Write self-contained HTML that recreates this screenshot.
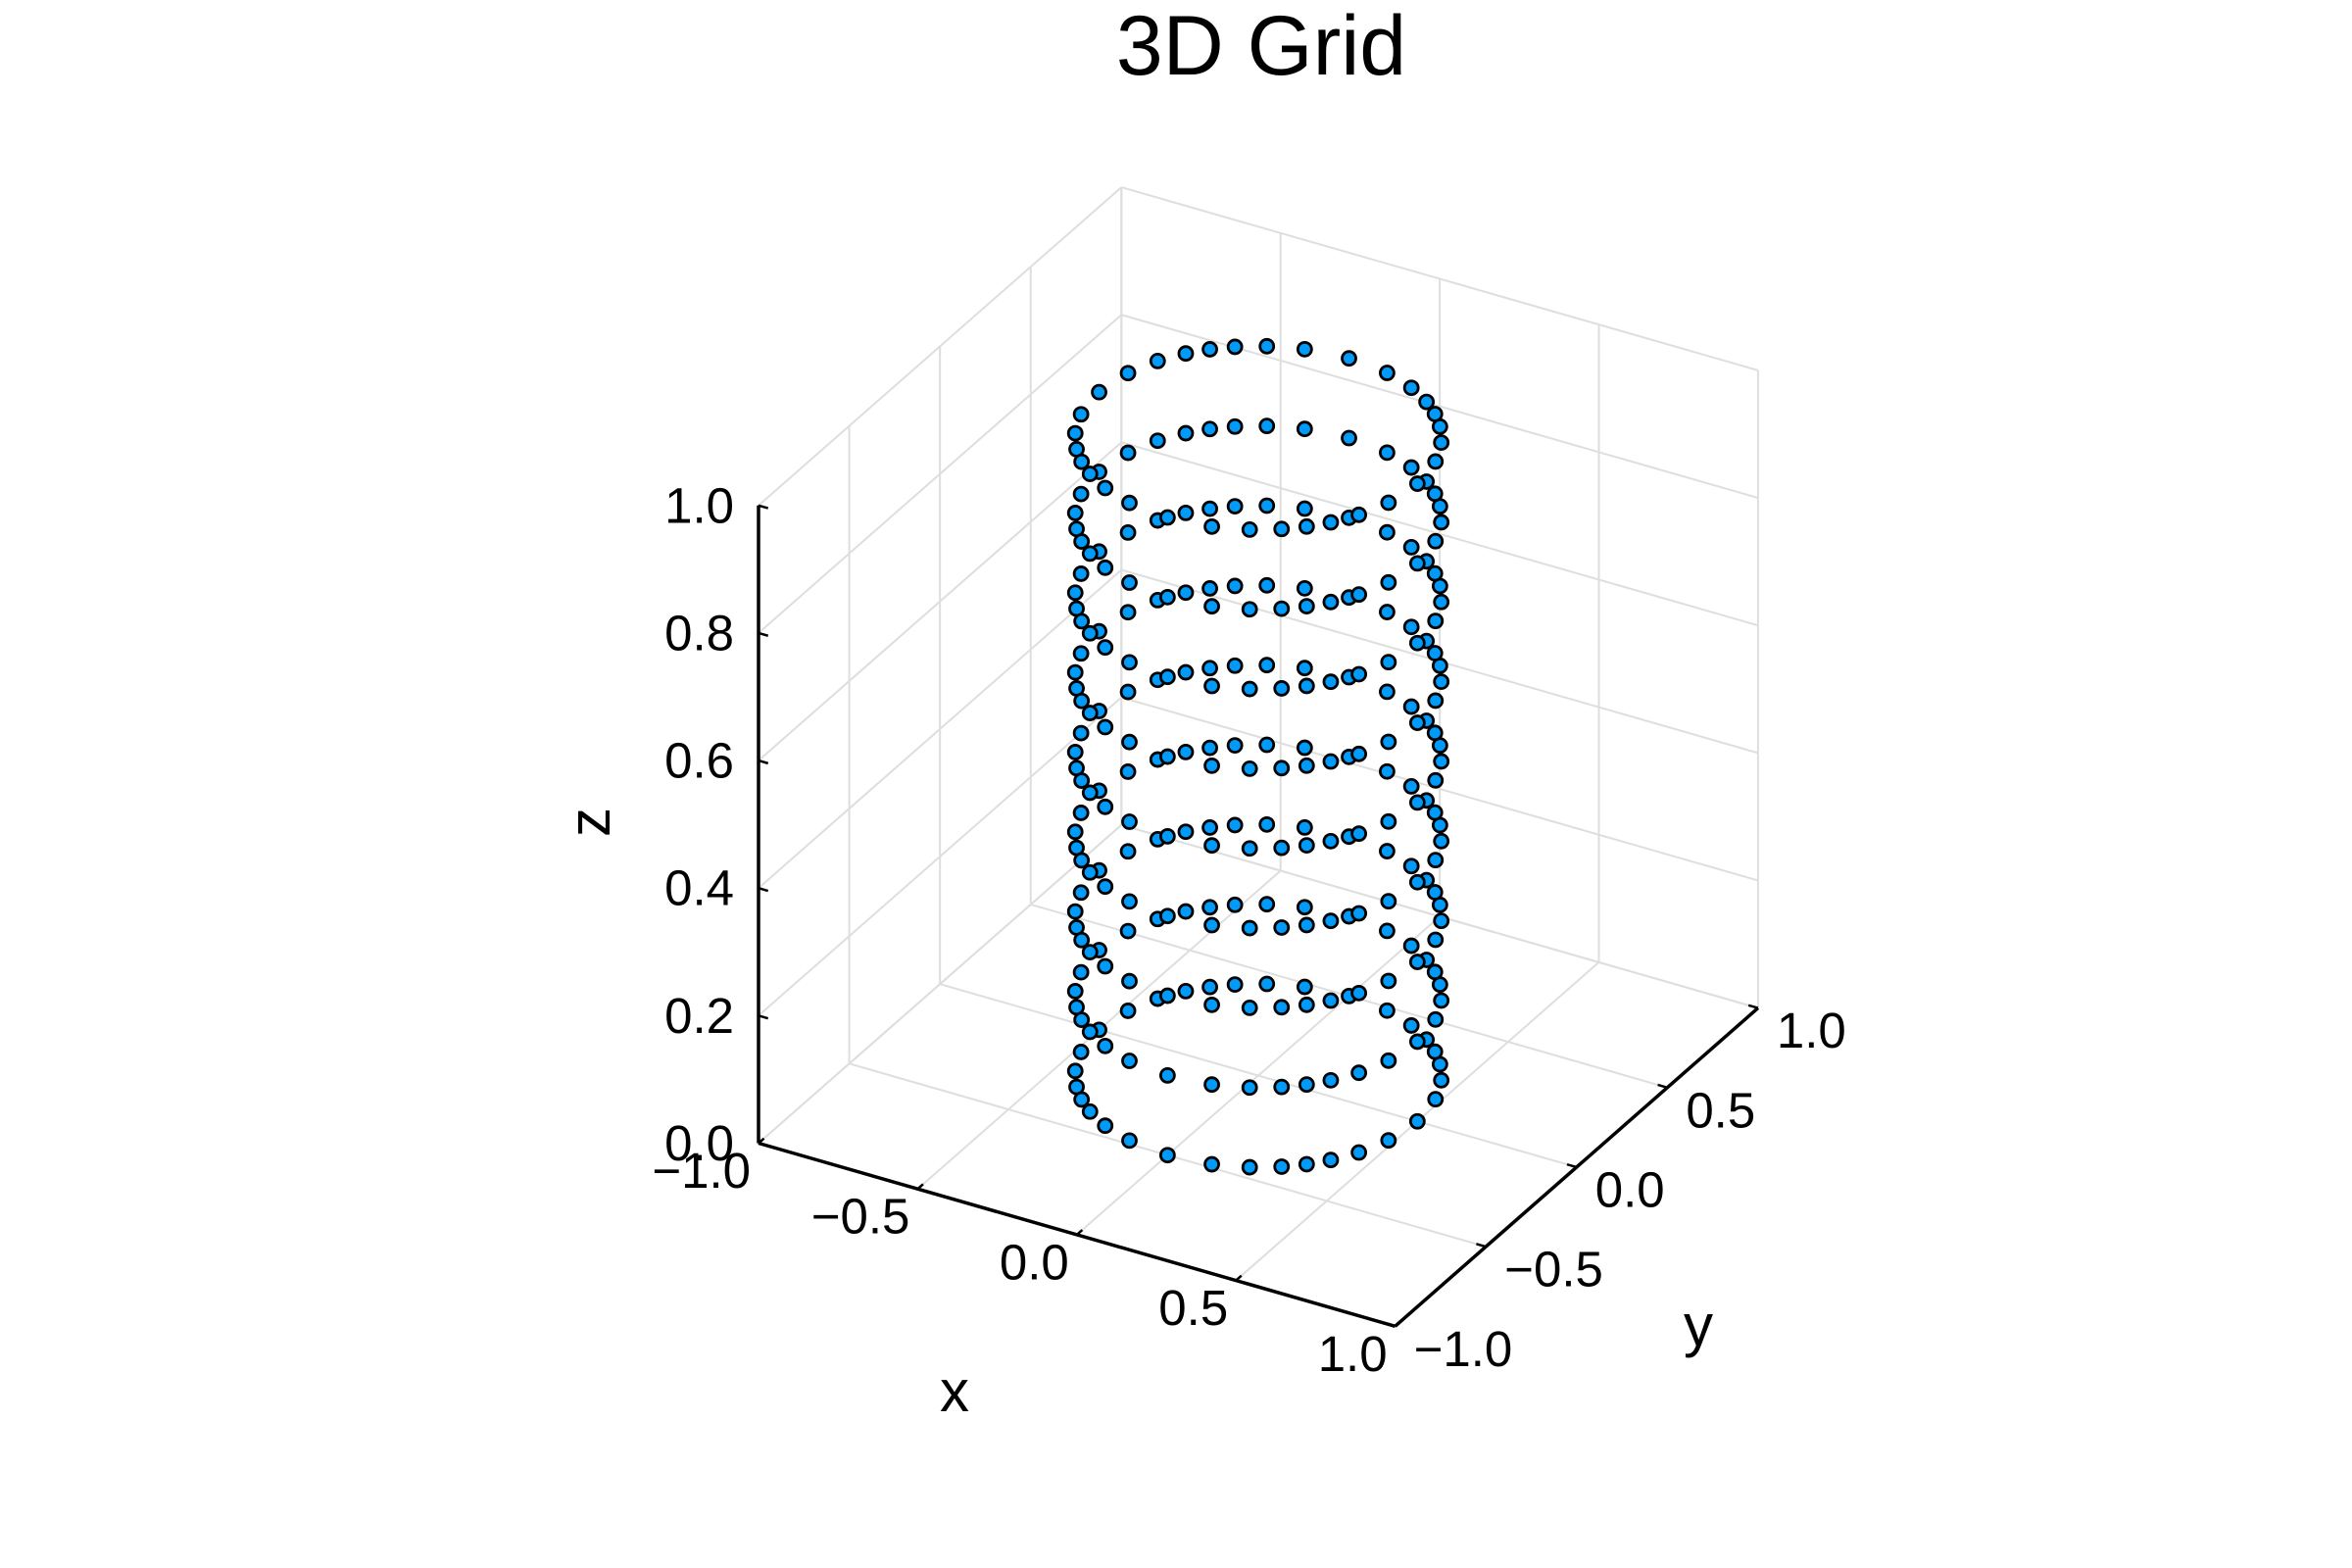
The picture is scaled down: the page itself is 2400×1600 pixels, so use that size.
<!DOCTYPE html>
<html>
<head>
<meta charset="utf-8">
<style>
  html, body { margin: 0; padding: 0; background: #fff; }
  svg { display: block; }
  text { font-family: "Liberation Sans", "DejaVu Sans", sans-serif; fill: #000; }
</style>
</head>
<body>
<svg id="chart" width="2400" height="1600" viewBox="0 0 2400 1600" xmlns="http://www.w3.org/2000/svg">
  <rect x="0" y="0" width="2400" height="1600" fill="#ffffff"/>
  <text x="1287" y="76" font-size="86" text-anchor="middle">3D Grid</text>
  <g id="grid"></g>
  <g id="axes"></g>
  <g id="points"></g>
  <text x="974" y="1440" font-size="60" text-anchor="middle">x</text>
  <text x="1733" y="1373" font-size="60" text-anchor="middle">y</text>
  <text x="0" y="0" font-size="60" text-anchor="middle" transform="translate(622,839) rotate(-90)">z</text>
</svg>
<script>
// ---- data ----
const ringAnglesDeg = [0, 15, 27, 37, 45, 53, 63, 75, 90, 105, 117, 127, 135, 143, 153, 165,
                       180, 195, 207, 217, 225, 233, 243, 255, 270, 285, 297, 307, 315, 323, 333, 345];
const ringLevels = [0, 0.125, 0.25, 0.375, 0.5, 0.625, 0.75, 0.875, 1.0];
const ringRadius = [0.5];
const xTicks = [-1, -0.5, 0, 0.5, 1];
const yTicks = [-1, -0.5, 0, 0.5, 1];
const zTicks = [0, 0.2, 0.4, 0.6, 0.8, 1.0];
const xTickLabels = ["\u22121.0", "\u22120.5", "0.0", "0.5", "1.0"];
const yTickLabels = ["\u22121.0", "\u22120.5", "0.0", "0.5", "1.0"];
const zTickLabels = ["0.0", "0.2", "0.4", "0.6", "0.8", "1.0"];

// ---- projection ----
const O = [774, 1166.5];
const EX = [649.6, 186.8];
const EY = [370.3, -324.7];
const EZ = [0, -650.7];
function P(x, y, z) {
  const u = (x + 1) / 2, v = (y + 1) / 2;
  return [O[0] + u * EX[0] + v * EY[0] + z * EZ[0], O[1] + u * EX[1] + v * EY[1] + z * EZ[1]];
}
const NS = "http://www.w3.org/2000/svg";
function line(parent, a, b, stroke, w) {
  const l = document.createElementNS(NS, "line");
  l.setAttribute("x1", a[0]); l.setAttribute("y1", a[1]);
  l.setAttribute("x2", b[0]); l.setAttribute("y2", b[1]);
  l.setAttribute("stroke", stroke); l.setAttribute("stroke-width", w);
  parent.appendChild(l);
  return l;
}
function txt(parent, s, x, y, anchor) {
  const t = document.createElementNS(NS, "text");
  t.setAttribute("x", x); t.setAttribute("y", y);
  t.setAttribute("font-size", "51");
  t.setAttribute("text-anchor", anchor);
  t.setAttribute("dominant-baseline", "central");
  t.textContent = s;
  parent.appendChild(t);
  return t;
}
const grid = document.getElementById("grid");
const gc = "#dedede", gw = 2;
xTicks.forEach(x => {
  const l = line(grid, P(x, -1, 0), P(x, 1, 0), gc, gw);
  
  
});
yTicks.forEach(y => {
  const l = line(grid, P(-1, y, 0), P(1, y, 0), gc, gw);
  
  
});
yTicks.forEach(y => {
  const l = line(grid, P(-1, y, 0), P(-1, y, 1), gc, gw);
  
  
});
zTicks.forEach(z => {
  const l = line(grid, P(-1, -1, z), P(-1, 1, z), gc, gw);
  
  
});
xTicks.forEach(x => {
  const l = line(grid, P(x, 1, 0), P(x, 1, 1), gc, gw);
  
  
});
zTicks.forEach(z => {
  const l = line(grid, P(-1, 1, z), P(1, 1, z), gc, gw);
  
  
});

const axes = document.getElementById("axes");
const ax = line(axes, P(-1, -1, 0), P(1, -1, 0), "#000", 3.5);


const ay = line(axes, P(1, -1, 0), P(1, 1, 0), "#000", 3.5);


const az = line(axes, P(-1, -1, 0), P(-1, -1, 1), "#000", 3.5);



xTicks.forEach((x, i) => {
  const a = P(x, -1, 0), b = P(x, -0.97, 0);
  const t = line(axes, a, b, "#000", 2.5);
  
  
  const lb = txt(axes, xTickLabels[i], a[0] - 8, a[1] + 28, "end");
  
  
});
yTicks.forEach((y, i) => {
  const a = P(1, y, 0), b = P(0.97, y, 0);
  const t = line(axes, a, b, "#000", 2.5);
  
  
  const lb = txt(axes, yTickLabels[i], a[0] + 19, a[1] + 23, "start");
  
  
});
zTicks.forEach((z, i) => {
  const a = P(-1, -1, z), b = P(-0.97, -1, z);
  const t = line(axes, a, b, "#000", 2.5);
  
  
  const lb = txt(axes, zTickLabels[i], a[0] - 25, a[1], "end");
  
  
});

const pts = document.getElementById("points");
const r = ringRadius[0];
ringLevels.forEach(z => {
  ringAnglesDeg.forEach(a => {
    const t = a * Math.PI / 180;
    const p = P(r * Math.cos(t), r * Math.sin(t), z);
    const c = document.createElementNS(NS, "circle");
    c.setAttribute("cx", p[0]); c.setAttribute("cy", p[1]);
    c.setAttribute("r", 7);
    c.setAttribute("fill", "#009af9");
    c.setAttribute("stroke", "#000");
    c.setAttribute("stroke-width", 2.8);
    
    
    pts.appendChild(c);
  });
});
</script>
</body>
</html>
